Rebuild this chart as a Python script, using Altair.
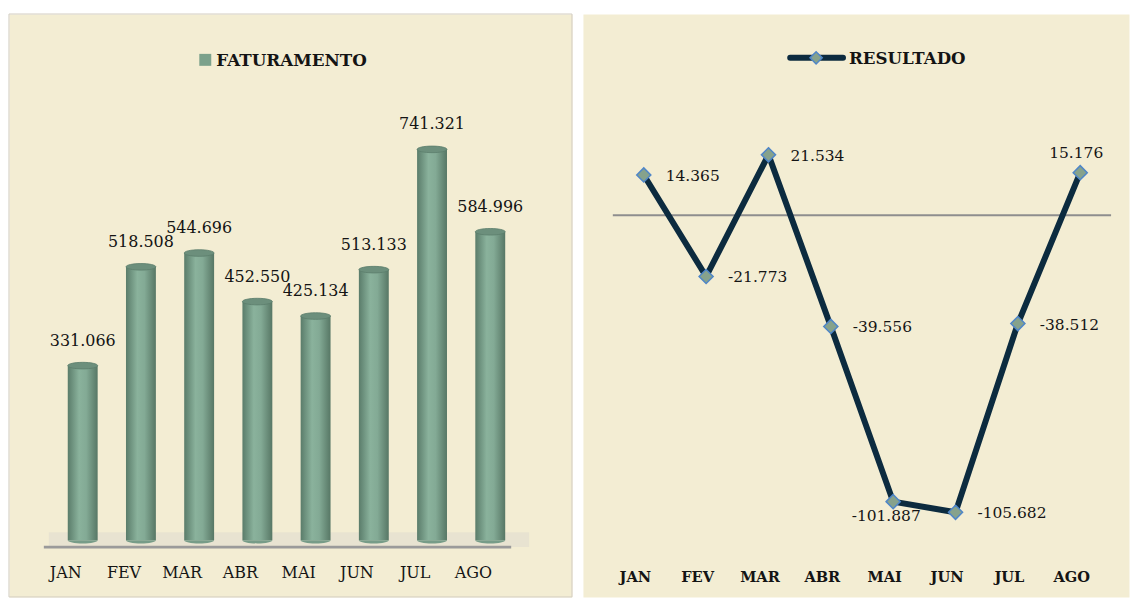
import altair as alt
import pandas as pd

# ---- data ----
meses = ["JAN", "FEV", "MAR", "ABR", "MAI", "JUN", "JUL", "AGO"]
faturamento = [331066, 518508, 544696, 452550, 425134, 513133, 741321, 584996]
resultado = [14365, -21773, 21534, -39556, -101887, -105682, -38512, 15176]
serie_fat = "FATURAMENTO"
serie_res = "RESULTADO"


def br(v):
    return f"{v:,}".replace(",", ".")


df_f = pd.DataFrame({"mes": meses, "valor": faturamento,
                     "lab": [br(v) for v in faturamento]})
df_base = pd.DataFrame({"mes": meses, "valor": [0] * len(meses)})
df_r = pd.DataFrame({"mes": meses, "valor": resultado, "lab": [br(v) for v in resultado]})
df_zero = pd.DataFrame({"valor": [0]})
df_leg_f = pd.DataFrame({"serie": [serie_fat]})
df_leg_r = pd.DataFrame({"serie": [serie_res]})

BG = "#F3EDD3"
FONT = "DejaVu Serif"
TXT = "#141414"

# ---------------- left panel: FATURAMENTO ----------------
xf = alt.X("mes:N", sort=meses,
           scale=alt.Scale(type="band", paddingInner=0, paddingOuter=0.835, align=0.459),
           axis=alt.Axis(title=None, domain=False, ticks=False, grid=False,
                         labelPadding=0, offset=-33, labelOffset=-17, labelAngle=0,
                         labelFont=FONT, labelFontSize=16, labelColor=TXT,
                         labelBaseline="top"))
yf = alt.Y("valor:Q", scale=alt.Scale(domain=[-107750, 998100], nice=False, zero=False), axis=None)

grad = alt.Gradient(gradient="linear", x1=0, x2=1, y1=0, y2=0, stops=[
    alt.GradientStop(color="#5A7C6A", offset=0),
    alt.GradientStop(color="#8AB29C", offset=0.38),
    alt.GradientStop(color="#83AA95", offset=0.62),
    alt.GradientStop(color="#577765", offset=1),
])

frame = alt.Chart(df_leg_f).mark_rect(fill="transparent", stroke="#D3CEC2", strokeWidth=1).encode(
    x=alt.value(0), x2=alt.value(565), y=alt.value(0), y2=alt.value(585), detail="serie:N")
floor = alt.Chart(df_leg_f).mark_rect(fill="#E8E3D1").encode(
    x=alt.value(40), x2=alt.value(522), y=alt.value(520), y2=alt.value(535), detail="serie:N")
baseline = alt.Chart(df_leg_f).mark_rule(color="#9A9A9A", strokeWidth=3).encode(
    x=alt.value(35), x2=alt.value(504), y=alt.value(535), detail="serie:N")

bars = alt.Chart(df_f).mark_bar(width=30, fill=grad).encode(x=xf, y=yf)
bottoms = alt.Chart(df_base).mark_point(
    shape="M-1,0 A1,0.22 0 0,0 1,0 Z", size=900, filled=True, fill="#779C88",
    strokeWidth=0, opacity=1).encode(x=xf, y=yf)
tops = alt.Chart(df_f).mark_point(
    shape="M-1,0 A1,0.22 0 1,0 1,0 A1,0.22 0 1,0 -1,0 Z", size=900, filled=True,
    fill="#6C8F7C", stroke="#5C7E6C", strokeWidth=0.8, opacity=1).encode(x=xf, y=yf)
labels_f = alt.Chart(df_f).mark_text(
    dy=-25, font=FONT, fontSize=16, color=TXT).encode(x=xf, y=yf, text="lab:N")

leg_sq = alt.Chart(df_leg_f).mark_square(size=144, filled=True, color="#7BA18B", opacity=1).encode(
    x=alt.value(197), y=alt.value(46), detail="serie:N")
leg_txt_f = alt.Chart(df_leg_f).mark_text(align="left", baseline="middle", font=FONT,
                                          fontSize=16.8, fontWeight="bold", color=TXT).encode(
    x=alt.value(208), y=alt.value(47), text="serie:N")

left = alt.layer(floor, baseline, bars, bottoms, tops, labels_f, leg_sq, leg_txt_f, frame).properties(
    width=565, height=585)

# ---------------- right panel: RESULTADO ----------------
xr = alt.X("mes:N", sort=meses,
           scale=alt.Scale(type="point", padding=0.879, align=0.555),
           axis=alt.Axis(title=None, domain=False, ticks=False, grid=False,
                         labelPadding=0, offset=-27, labelOffset=-9, labelAngle=0,
                         labelFont=FONT, labelFontSize=14.7, labelFontWeight="bold",
                         labelColor=TXT, labelBaseline="top"))
yr = alt.Y("valor:Q", scale=alt.Scale(domain=[-135800, 71630], nice=False, zero=False), axis=None)

zero_line = alt.Chart(df_zero).mark_rule(color="#8E8E8E", strokeWidth=2).encode(
    y=yr, x=alt.value(30), x2=alt.value(530))
line = alt.Chart(df_r).mark_line(color="#0C2B3F", strokeWidth=6).encode(x=xr, y=yr)
pts = alt.Chart(df_r).mark_point(shape="diamond", size=200, filled=True, fill="#86A28C",
                                 stroke="#4F86C8", strokeWidth=1.5, opacity=1).encode(x=xr, y=yr)

df_r_right = df_r[~df_r["mes"].isin(["MAI", "AGO"])]
df_r_below = df_r[df_r["mes"] == "MAI"]
df_r_above = df_r[df_r["mes"] == "AGO"]
lab_right = alt.Chart(df_r_right).mark_text(
    align="left", dx=22, dy=1, font=FONT, fontSize=15.5, color=TXT).encode(x=xr, y=yr, text="lab:N")
lab_below = alt.Chart(df_r_below).mark_text(
    align="center", dx=-7, dy=14, font=FONT, fontSize=15.5, color=TXT).encode(x=xr, y=yr, text="lab:N")
lab_above = alt.Chart(df_r_above).mark_text(
    align="center", dx=-4, dy=-20, font=FONT, fontSize=15.5, color=TXT).encode(x=xr, y=yr, text="lab:N")

leg_line = alt.Chart(df_leg_r).mark_rule(color="#0C2B3F", strokeWidth=6, strokeCap="round").encode(
    x=alt.value(208), x2=alt.value(261), y=alt.value(44), detail="serie:N")
leg_pt = alt.Chart(df_leg_r).mark_point(shape="diamond", size=150, filled=True, fill="#86A28C",
                                        stroke="#4F86C8", strokeWidth=1.5, opacity=1).encode(
    x=alt.value(234), y=alt.value(44), detail="serie:N")
leg_txt = alt.Chart(df_leg_r).mark_text(align="left", baseline="middle", font=FONT,
                                        fontSize=16.7, fontWeight="bold", color=TXT).encode(
    x=alt.value(267), y=alt.value(45), text="serie:N")

right = alt.layer(zero_line, line, pts, lab_right, lab_below, lab_above,
                  leg_line, leg_pt, leg_txt).properties(width=548, height=585)

chart = alt.hconcat(left, right, spacing=9).resolve_scale(x="independent", y="independent").properties(
    padding={"left": 8, "top": 12, "right": 0, "bottom": 0},
    background="white").configure_view(fill=BG, stroke="transparent")

chart.save("out.html", embed_options={"renderer": "svg", "actions": False})
